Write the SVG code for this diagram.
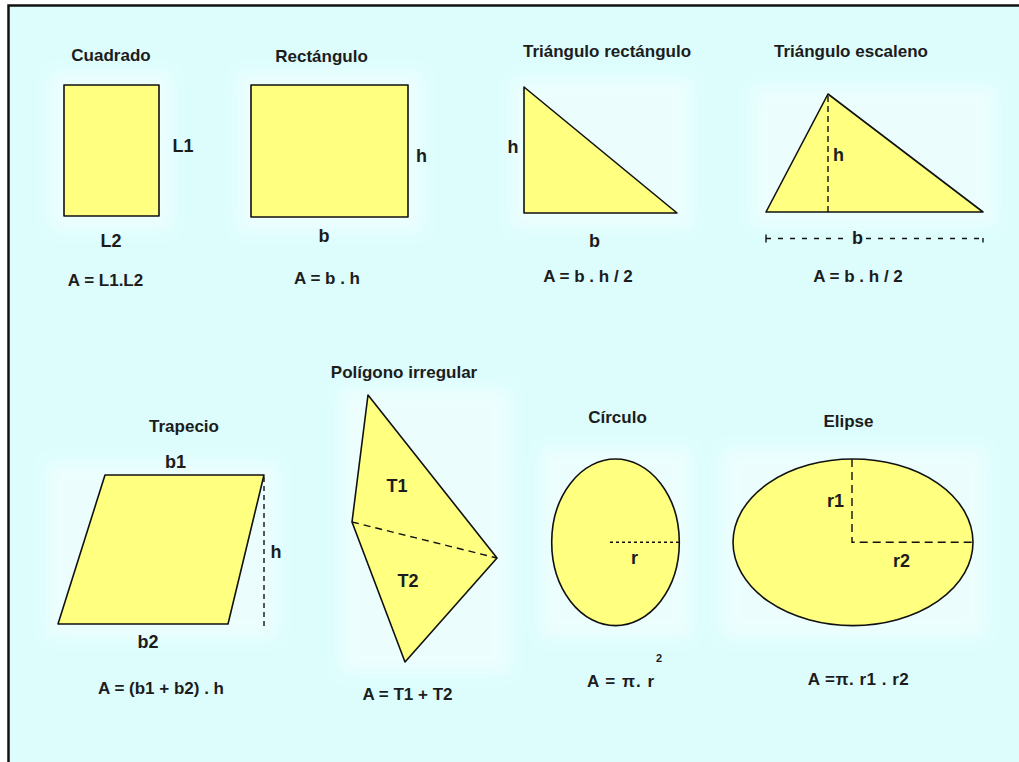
<svg xmlns="http://www.w3.org/2000/svg" width="1019" height="762" viewBox="0 0 1019 762">
<defs>
<filter id="soft" x="-30%" y="-30%" width="160%" height="160%"><feGaussianBlur stdDeviation="8"/></filter>
</defs>
<style>
.shape{fill:#FFFF80;stroke:#111;stroke-width:1.6;stroke-linejoin:round}
.dash{fill:none;stroke:#111;stroke-width:1.4}
.t{font-family:"Liberation Sans",Arial,sans-serif;font-weight:bold;fill:#1c1c1c;text-anchor:middle}
.title{font-size:17px}
.lab{font-size:18px}
.f{font-size:17px}
.halo{fill:#ffffff;opacity:0.45;filter:url(#soft)}
</style>
<rect x="0" y="0" width="1019" height="762" fill="#ffffff"/>
<rect x="8.5" y="5.5" width="1015" height="760" fill="#DDFDFD" stroke="#111" stroke-width="2.5"/>
<g id="halos">
<rect class="halo" x="50" y="72" width="122" height="158"/>
<rect class="halo" x="238" y="72" width="184" height="160"/>
<rect class="halo" x="512" y="78" width="180" height="150"/>
<rect class="halo" x="752" y="86" width="244" height="140"/>
<rect class="halo" x="46" y="462" width="232" height="176"/>
<rect class="halo" x="340" y="388" width="170" height="285"/>
<rect class="halo" x="540" y="448" width="152" height="190"/>
<rect class="halo" x="722" y="448" width="264" height="190"/>
</g>
<g id="cuadrado">
<text class="t title" x="111" y="61">Cuadrado</text>
<rect class="shape" x="64" y="85" width="95" height="131"/>
<text class="t lab" x="183" y="152">L1</text>
<text class="t lab" x="111" y="247">L2</text>
<text class="t f" x="105.5" y="286">A = L1.L2</text>
</g>
<g id="rectangulo">
<text class="t title" x="321.5" y="62">Rectángulo</text>
<rect class="shape" x="251" y="85" width="157" height="132"/>
<text class="t lab" x="421.5" y="162">h</text>
<text class="t lab" x="324" y="242">b</text>
<text class="t f" x="327" y="284">A = b . h</text>
</g>
<g id="triangulo-rectangulo">
<text class="t title" x="607" y="57">Triángulo rectángulo</text>
<polygon class="shape" points="524,87 524,213 677,213"/>
<text class="t lab" x="513" y="153">h</text>
<text class="t lab" x="594.5" y="247">b</text>
<text class="t f" x="588" y="282">A = b . h / 2</text>
</g>
<g id="triangulo-escaleno">
<text class="t title" x="851" y="57">Triángulo escaleno</text>
<polygon class="shape" points="828,94 766,212 983,212"/>
<text class="t lab" x="838.5" y="161">h</text>
<text class="t lab" x="857.5" y="244">b</text>
<text class="t f" x="858" y="282">A = b . h / 2</text>
</g>
<g id="trapecio">
<text class="t title" x="184" y="432">Trapecio</text>
<polygon class="shape" points="105,475 264,475 228,624 58,624"/>
<text class="t lab" x="175.5" y="468">b1</text>
<text class="t lab" x="276" y="558">h</text>
<text class="t lab" x="148" y="648">b2</text>
<text class="t f" x="161" y="694">A = (b1 + b2) . h</text>
</g>
<g id="poligono-irregular">
<text class="t title" x="404" y="378">Polígono irregular</text>
<polygon class="shape" points="368,395 497,558 405,662 352,522"/>
<text class="t lab" x="397" y="492">T1</text>
<text class="t lab" x="408" y="587">T2</text>
<text class="t f" x="407.5" y="700">A = T1 + T2</text>
</g>
<g id="circulo">
<text class="t title" x="617.5" y="423">Círculo</text>
<ellipse class="shape" cx="615.5" cy="542.3" rx="63.8" ry="83.3"/>
<text class="t lab" x="634.5" y="564">r</text>
<text class="t f" x="587" y="687" style="text-anchor:start" letter-spacing="1">A = π. r<tspan font-size="11" dx="1" dy="-25">2</tspan></text>
</g>
<g id="elipse">
<text class="t title" x="848.5" y="427">Elipse</text>
<ellipse class="shape" cx="853" cy="542.3" rx="120" ry="83.3"/>
<text class="t lab" x="835.5" y="507">r1</text>
<text class="t lab" x="901.5" y="567">r2</text>
<text class="t f" x="858.5" y="685" letter-spacing="0.5">A =π. r1 . r2</text>
</g>
<g id="connectors">
<line class="dash" x1="828" y1="96" x2="828" y2="212" stroke-dasharray="6,4"/>
<line class="dash" x1="766" y1="238.5" x2="850" y2="238.5" stroke-dasharray="5,7"/>
<line class="dash" x1="866" y1="238.5" x2="983" y2="238.5" stroke-dasharray="5,7"/>
<line class="dash" x1="766" y1="234.5" x2="766" y2="242.5"/>
<line class="dash" x1="983" y1="238" x2="983" y2="242.5"/>
<line class="dash" x1="264" y1="477" x2="264" y2="626" stroke-dasharray="5,4"/>
<line class="dash" x1="352" y1="522" x2="497" y2="558" stroke-dasharray="7,5"/>
<line class="dash" x1="610" y1="542.3" x2="679" y2="542.3" stroke-dasharray="3,3"/>
<polyline class="dash" points="852,459 852,542.3 973,542.3" stroke-dasharray="8,5"/>
</g>
</svg>
